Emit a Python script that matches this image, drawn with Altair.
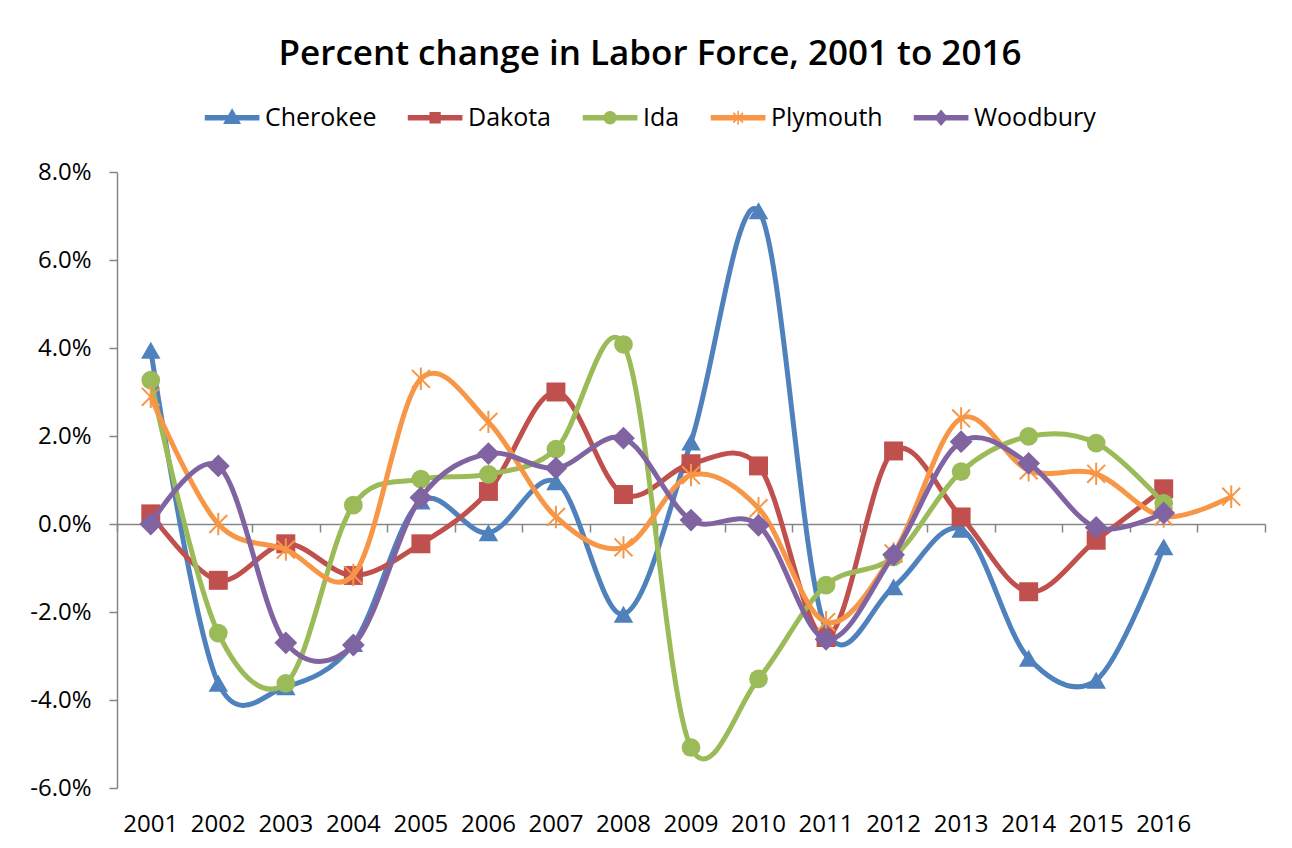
import altair as alt
import pandas as pd

# ---------------- data ----------------
categories = [str(y) for y in range(2001, 2017)] + [" "]
series_names = ["Cherokee", "Dakota", "Ida", "Plymouth", "Woodbury"]

cherokee = [3.95, -3.62, -3.70, -2.72, 0.52, -0.20, 0.96, -2.05, 1.86, 7.12, -2.40, -1.43, -0.12, -3.05, -3.55, -0.52]
dakota = [0.23, -1.28, -0.45, -1.17, -0.45, 0.74, 3.00, 0.67, 1.37, 1.32, -2.58, 1.66, 0.16, -1.54, -0.37, 0.80]
ida = [3.27, -2.48, -3.62, 0.43, 1.02, 1.13, 1.70, 4.08, -5.08, -3.52, -1.39, -0.75, 1.19, 1.99, 1.84, 0.47]
plymouth = [2.89, 0.00, -0.58, -1.16, 3.30, 2.32, 0.16, -0.53, 1.11, 0.36, -2.23, -0.67, 2.40, 1.22, 1.14, 0.17, 0.62]
woodbury = [0.00, 1.32, -2.70, -2.75, 0.60, 1.60, 1.27, 1.95, 0.09, -0.03, -2.62, -0.70, 1.87, 1.38, -0.08, 0.25]

y_ticks = [-6, -4, -2, 0, 2, 4, 6, 8]

# ---------------- styling ----------------
colors = ["#4F81BD", "#C0504D", "#9BBB59", "#F79646", "#8064A2"]
ASTERISK = "M-1,-1L1,1M-1,1L1,-1M0,-1.25L0,1.25"
marker_shapes = ["triangle-up", "square", "circle", ASTERISK, "diamond"]
marker_sizes = [380, 360, 350, 320, 520]
marker_filled = [True, True, True, False, True]

# legend symbols: line segment + marker (unit = sqrt(symbolSize)/2)
LINE = "M-1,-0.3H6.6V0.3H-1Z"
legend_paths = [
    LINE + "M2.8,-1.15L3.9,0.8L1.7,0.8Z",
    LINE + "M2.1,-0.7H3.5V0.7H2.1Z",
    LINE + "M1.95,0A0.85,0.85 0 1,1 3.65,0A0.85,0.85 0 1,1 1.95,0Z",
    LINE + "M2.1,-0.7L3.5,0.7M2.1,0.7L3.5,-0.7M2.8,-1L2.8,1",
    LINE + "M2.8,-1L3.65,0L2.8,1L1.95,0Z",
]

FONT = "Open Sans"
GRAY = "#868686"
WIDTH, HEIGHT = 1148, 616
YMIN, YMAX = -6, 8
zero_offset = -HEIGHT * (0 - YMIN) / (YMAX - YMIN)

rows = []
for name, vals in zip(series_names, [cherokee, dakota, ida, plymouth, woodbury]):
    for cat, v in zip(categories, vals):
        rows.append({"year": cat, "series": name, "value": v})
df = pd.DataFrame(rows)

xscale = alt.Scale(type="band", domain=categories, paddingInner=0, paddingOuter=0)
yscale = alt.Scale(domain=[YMIN, YMAX], nice=False, zero=False)

axis_zero = alt.Axis(orient="bottom", offset=zero_offset, labels=False, title=None,
                     domain=True, domainColor=GRAY, domainWidth=1.5,
                     ticks=True, tickBand="extent", tickSize=8, tickColor=GRAY,
                     tickWidth=1.5, grid=False)
axis_labels = alt.Axis(orient="bottom", offset=0, domain=False, ticks=False,
                       labelPadding=24, labelFontSize=24, labelFont=FONT,
                       labelColor="black", labelAngle=0, title=None, grid=False)
y_axis = alt.Axis(values=y_ticks, title=None, grid=False,
                  labelExpr="(datum.value < 0 ? '-' : '') + format(abs(datum.value), '.1f') + '%'",
                  labelFontSize=24, labelFont=FONT, labelColor="black", labelPadding=18,
                  domainColor=GRAY, domainWidth=1.5, tickColor=GRAY, tickWidth=1.5,
                  tickSize=8)

Y = alt.Y("value:Q", scale=yscale, axis=y_axis)

base = alt.Chart(df)
layers = []
for i, name in enumerate(series_names):
    sub = base.transform_filter(alt.datum.series == name)
    if i == 0:
        xa = axis_zero
    elif i == 1:
        xa = axis_labels
    else:
        xa = None
    line = sub.mark_line(interpolate="catmull-rom", tension=0.1, strokeWidth=5,
                         color=colors[i]).encode(
        x=alt.X("year:N", scale=xscale, axis=xa, bandPosition=0.5),
        y=Y,
    )
    pts = sub.mark_point(shape=marker_shapes[i], size=marker_sizes[i],
                         filled=marker_filled[i], opacity=1,
                         strokeWidth=2 if not marker_filled[i] else 1,
                         color=colors[i]).encode(
        x=alt.X("year:N", scale=xscale, axis=None, bandPosition=0.5),
        y=Y,
    )
    layers += [line, pts]

legend = alt.Legend(orient="none", legendX=83, legendY=-67, direction="horizontal",
                    title=None, symbolSize=196, symbolStrokeWidth=1.5,
                    labelOffset=40, columnPadding=26, labelFontSize=25,
                    labelFont=FONT, labelColor="black", symbolOpacity=1)
legend_layer = base.transform_filter("false").mark_point(filled=True, opacity=1,
                                                         strokeWidth=1.5).encode(
    x=alt.X("year:N", scale=xscale, axis=None, bandPosition=0.5),
    y=Y,
    fill=alt.Fill("series:N", scale=alt.Scale(domain=series_names, range=colors), legend=legend),
    stroke=alt.Stroke("series:N", scale=alt.Scale(domain=series_names, range=colors), legend=legend),
    shape=alt.Shape("series:N", scale=alt.Scale(domain=series_names, range=legend_paths), legend=legend),
)
layers.append(legend_layer)

chart = alt.layer(*layers).resolve_axis(x="independent").properties(
    width=WIDTH, height=HEIGHT,
    title=alt.TitleParams("Percent change in Labor Force, 2001 to 2016", fontSize=35,
                          font=FONT, fontWeight=600, color="black", anchor="middle",
                          offset=33, dx=-41),
    autosize=alt.AutoSizeParams(type="none"),
    padding={"left": 109, "top": 164, "right": 19, "bottom": 52},
    background="white",
).configure_view(stroke=None)

chart.save("out.html", embed_options={"renderer": "svg", "actions": False})
